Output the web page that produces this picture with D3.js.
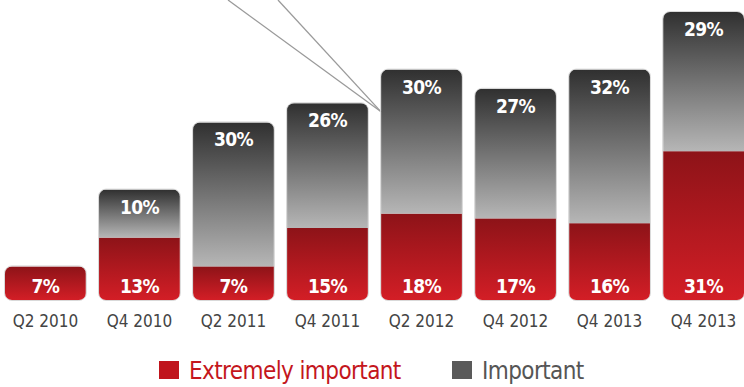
<!DOCTYPE html>
<html>
<head>
<meta charset="utf-8">
<script src="https://cdn.jsdelivr.net/npm/d3@7"></script>
<style>
  html, body { margin: 0; padding: 0; background: #fff; }
  svg { display: block; }
  .cond { font-family: "DejaVu Sans Condensed", "DejaVu Sans", sans-serif; font-stretch: condensed; }
</style>
</head>
<body>
<svg id="chart" width="744" height="387"></svg>
<script>
// Survey periods (the last two share the same printed label)
const categories = ["Q2 2010", "Q4 2010", "Q2 2011", "Q4 2011", "Q2 2012", "Q4 2012", "Q4 2013", "Q4 2013 "];
const extremelyImportant = [7, 13, 7, 15, 18, 17, 16, 31];
const important = [0, 10, 30, 26, 30, 27, 32, 29];
const seriesNames = ["Extremely important", "Important"];

const W = 744, H = 387;
const svg = d3.select("#chart");
const defs = svg.append("defs");

const x = d3.scaleBand().domain(categories).range([5, 744]).paddingInner(0.14).paddingOuter(0);
const y = d3.scaleLinear().domain([0, 60]).range([300, 12]);

// vertical gradients for each segment type
function vGrad(id, top, bottom) {
  const g = defs.append("linearGradient").attr("id", id)
    .attr("x1", 0).attr("y1", 0).attr("x2", 0).attr("y2", 1);
  g.append("stop").attr("offset", "0%").attr("stop-color", top);
  g.append("stop").attr("offset", "100%").attr("stop-color", bottom);
}
vGrad("gradRed", "#8d1318", "#d31e26");
vGrad("gradGrey", "#303030", "#b6b6b6");

// callout lines pointing at the Q2 2012 bar
const calloutTarget = [x("Q2 2012"), y(39.2)];
[228, 278].forEach(sx => {
  svg.append("line")
    .attr("x1", sx).attr("y1", 0)
    .attr("x2", calloutTarget[0]).attr("y2", calloutTarget[1])
    .attr("stroke", "#9a9a9a").attr("stroke-width", 1.3);
});

const rows = categories.map((c, i) => ({ c, i, red: extremelyImportant[i], grey: important[i] }));
const radius = 7;

const bars = svg.selectAll("g.bar").data(rows).join("g").attr("class", "bar");

bars.each(function (d) {
  const g = d3.select(this);
  const bx = x(d.c), bw = x.bandwidth();
  const total = d.red + d.grey;
  const clipId = "clip" + d.i;
  defs.append("clipPath").attr("id", clipId)
    .append("rect")
    .attr("x", bx).attr("y", y(total)).attr("width", bw).attr("height", y(0) - y(total))
    .attr("rx", radius).attr("ry", radius);

  // light outline around the whole bar
  g.append("rect")
    .attr("x", bx - 0.5).attr("y", y(total) - 0.5)
    .attr("width", bw + 1).attr("height", y(0) - y(total) + 1)
    .attr("rx", radius + 0.5).attr("fill", "none")
    .attr("stroke", "#d9d9d9").attr("stroke-width", 1);

  const inner = g.append("g").attr("clip-path", `url(#${clipId})`);
  inner.append("rect")
    .attr("x", bx).attr("y", y(d.red)).attr("width", bw).attr("height", y(0) - y(d.red))
    .attr("fill", "url(#gradRed)");
  if (d.grey > 0) {
    inner.append("rect")
      .attr("x", bx).attr("y", y(total)).attr("width", bw).attr("height", y(d.red) - y(total))
      .attr("fill", "url(#gradGrey)");
  }

  // value labels
  g.append("text").attr("class", "cond")
    .attr("x", bx + bw / 2).attr("y", y(0) - 7)
    .attr("text-anchor", "middle").attr("fill", "#fff")
    .attr("font-size", 19).attr("font-weight", "bold").attr("letter-spacing", -0.6)
    .text(d.red + "%");
  if (d.grey > 0) {
    g.append("text").attr("class", "cond")
      .attr("x", bx + bw / 2).attr("y", y(total) + 24)
      .attr("text-anchor", "middle").attr("fill", "#fff")
      .attr("font-size", 19).attr("font-weight", "bold").attr("letter-spacing", -0.6)
      .text(d.grey + "%");
  }
});

// category axis
const axis = d3.axisBottom(x).tickSize(0).tickFormat(d => d.trim());
const ax = svg.append("g").attr("transform", `translate(0,${y(0) + 12})`).call(axis);
ax.select(".domain").remove();
ax.selectAll("text")
  .attr("class", "cond")
  .attr("font-size", 17).attr("fill", "#444").attr("dy", "0.71em");

// legend
const legend = [
  { name: seriesNames[0], sw: "#c0141c", text: "#c4161c", x: 159 },
  { name: seriesNames[1], sw: "#5a5a5a", text: "#555", x: 452 }
];
const lg = svg.selectAll("g.legend").data(legend).join("g").attr("class", "legend")
  .attr("transform", d => `translate(${d.x},361)`);
lg.append("rect").attr("width", 20).attr("height", 18).attr("fill", d => d.sw);
lg.append("text").attr("class", "cond")
  .attr("x", 30).attr("y", 18)
  .attr("font-size", 24).attr("letter-spacing", -0.6).attr("fill", d => d.text)
  .text(d => d.name);
</script>
</body>
</html>
